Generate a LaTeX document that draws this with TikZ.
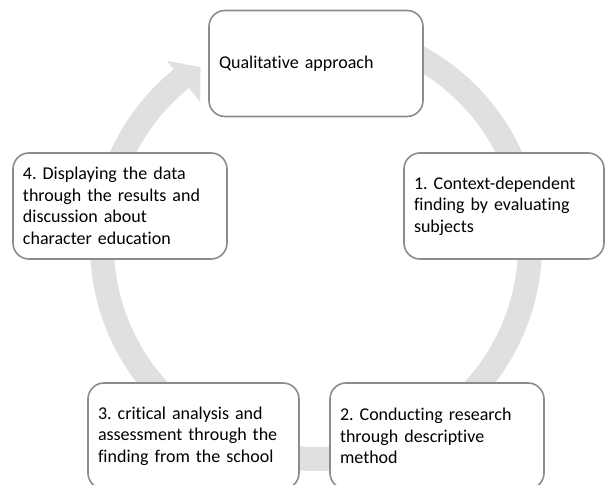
\documentclass[tikz,border=0pt]{standalone}
\usepackage{fontspec}
\setmainfont{Carlito}[Ligatures=NoCommon]
\usepackage{xcolor}
\usepackage{tikz}

\definecolor{RingGray}{HTML}{E0E0E0}
\definecolor{FrameGray}{HTML}{8C8C8C}

\begin{document}
\frenchspacing
\begin{tikzpicture}[x=1pt, y=1pt,
    stagebox/.style={draw=FrameGray, line width=1.6pt, fill=white, rounded corners=16pt,
        minimum height=106pt, inner sep=10pt, align=left,
        font=\fontsize{18}{21.5}\selectfont}]
    \useasboundingbox (0, 0) rectangle (606, 485);

    % circular arrow behind the boxes
    \begin{scope}[shift={(316, 240)}]
        \fill[color=RingGray] (95:226) arc[start angle=95, end angle=-231, radius=226]
            -- (129:237) -- (123:212) -- (129:184)
            -- (-231:202) arc[start angle=-231, end angle=95, radius=202] -- cycle;
    \end{scope}

    \node[stagebox, text width=194pt] (approach) at (316, 421.5) {Qualitative approach};
    \node[stagebox, text width=180pt] (context) at (504, 279) {1. Context-dependent\\finding by evaluating\\subjects};
    \node[stagebox, text width=194pt] (descriptive) at (437, 49) {2. Conducting research\\through descriptive\\method};
    \node[stagebox, text width=191pt] (analysis) at (193.5, 49) {3. critical analysis and\\assessment through the\\finding from the school};
    \node[stagebox, text width=194pt] (display) at (120, 279) {4. Displaying the data\\through the results and\\discussion about\\character education};
\end{tikzpicture}
\end{document}
